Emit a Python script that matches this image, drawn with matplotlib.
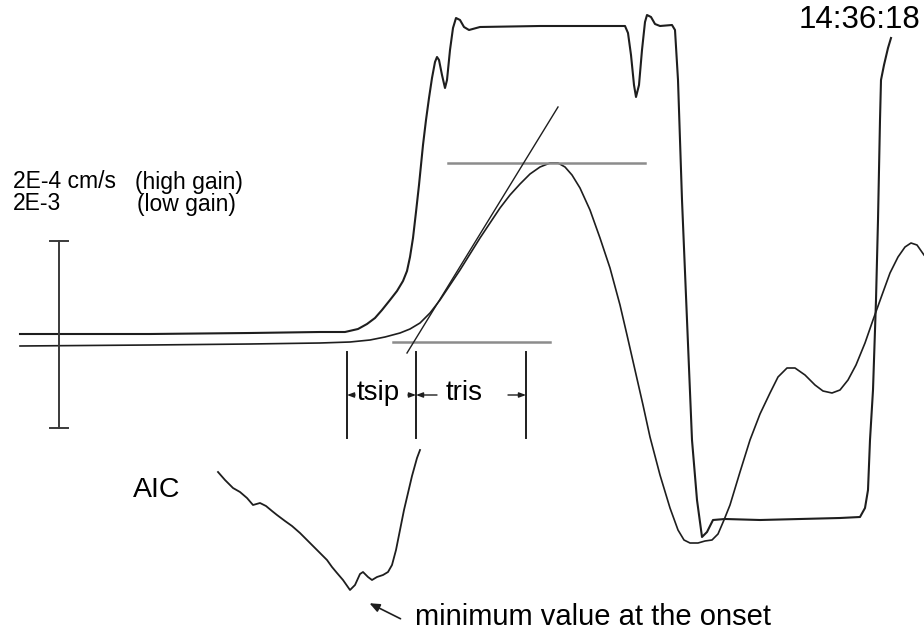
import matplotlib
matplotlib.use('Agg')
import matplotlib.pyplot as plt

plt.rcParams['font.family'] = ['Liberation Sans', 'DejaVu Sans']

# traces, in picture units (x = time, y = amplitude, down is positive)
hg_t = [20, 150, 250, 320, 345, 358, 367, 375, 382, 390, 397, 403, 407, 410, 413, 416, 419, 423, 426, 429,
        432, 435, 437, 439, 442, 445, 447, 450, 453, 456, 460, 464, 469, 480, 540, 600, 625, 628, 631, 634,
        636, 639, 642, 645, 647, 651, 655, 660, 672, 675, 678, 682, 687, 692, 697, 702, 707, 713, 725, 760,
        800, 840, 860, 865, 868, 870, 873, 876, 878, 880, 881, 884, 888, 891]
hg_v = [334, 334, 333, 332, 332, 329, 324, 318, 310, 300, 291, 281, 271, 257, 238, 212, 185, 145, 120, 98,
        78, 62, 57, 60, 75, 88, 80, 50, 28, 18, 20, 27, 30, 27, 26, 26, 26, 33, 55, 85,
        97, 85, 50, 22, 15, 17, 24, 26, 25, 30, 80, 200, 320, 440, 500, 537, 532, 520, 519, 520,
        519, 518, 517, 508, 490, 440, 390, 300, 220, 120, 80, 65, 48, 38]

lg_t = [20, 150, 250, 320, 350, 370, 385, 400, 410, 420, 430, 440, 450, 460, 470, 480, 490, 500, 510, 520,
        530, 540, 550, 558, 565, 572, 580, 590, 600, 610, 620, 627, 635, 643, 650, 660, 670, 678, 684, 690,
        698, 705, 712, 718, 724, 730, 740, 750, 760, 770, 778, 787, 795, 805, 815, 823, 832, 840, 848, 856,
        865, 873, 882, 890, 898, 905, 911, 917, 924]
lg_v = [346, 345, 344, 343, 342, 340, 337, 333, 329, 323, 313, 300, 285, 270, 254, 238, 223, 208, 195, 184,
        174, 167, 163, 163, 167, 175, 188, 210, 238, 268, 305, 335, 370, 405, 437, 475, 508, 530, 540, 543,
        543, 541, 540, 534, 520, 505, 472, 440, 414, 393, 377, 368, 368, 375, 385, 391, 393, 390, 380, 365,
        343, 320, 295, 273, 257, 247, 243, 245, 255]

aic_t = [218, 225, 233, 240, 247, 253, 260, 266, 272, 277, 285, 292, 300, 307, 315, 320, 327, 332, 337, 343,
         350, 355, 360, 363, 368, 372, 377, 383, 388, 392, 396, 400, 404, 408, 412, 417, 420]
aic_v = [472, 480, 488, 492, 498, 505, 503, 506, 511, 515, 521, 526, 533, 540, 548, 553, 560, 567, 573, 580,
         590, 585, 574, 572, 577, 580, 577, 575, 572, 565, 550, 530, 510, 493, 476, 458, 450]

# construction lines
peak_level = [448, 645, 163]      # x0, x1, y
base_level = [393, 550, 342]
tangent = [[407, 558], [353, 107]]
scale_bar = [59, 241, 428]        # x, top, bottom
marks_t = [347, 416, 526]         # tsip / tris limits
marks_v = [352, 438]

fig = plt.figure(figsize=(9.24, 6.37), dpi=100)
ax = fig.add_axes([0, 0, 1, 1])
ax.set_xlim(0, 924)
ax.set_ylim(637, 0)
ax.axis('off')

ink = '#1e1e1e'
ax.plot(hg_t, hg_v, color=ink, lw=1.5, solid_joinstyle='round')
ax.plot(lg_t, lg_v, color=ink, lw=1.2, solid_joinstyle='round')
ax.plot(aic_t, aic_v, color=ink, lw=1.3, solid_joinstyle='round')

ax.plot(peak_level[:2], [peak_level[2]] * 2, color='#8c8c8c', lw=1.8)
ax.plot(base_level[:2], [base_level[2]] * 2, color='#8c8c8c', lw=1.8)
ax.plot(tangent[0], tangent[1], color=ink, lw=1.0)

# amplitude scale
ax.plot([scale_bar[0]] * 2, scale_bar[1:], color='#3a3a3a', lw=1.4)
for yy in scale_bar[1:]:
    ax.plot([scale_bar[0] - 9, scale_bar[0] + 9], [yy, yy], color='#3a3a3a', lw=1.4)

for xx in marks_t:
    ax.plot([xx, xx], marks_v, color=ink, lw=1.4)

arr = dict(arrowstyle='-|>,head_length=0.4,head_width=0.15', color=ink, lw=1.0, shrinkA=0, shrinkB=0)
ax.annotate('', xy=(marks_t[0], 395), xytext=(355, 395), arrowprops=arr)
ax.annotate('', xy=(marks_t[1], 395), xytext=(408, 395), arrowprops=arr)
ax.annotate('', xy=(marks_t[1], 395), xytext=(437, 395), arrowprops=arr)
ax.annotate('', xy=(marks_t[2], 395), xytext=(508, 395), arrowprops=arr)

ax.text(357, 393, 'tsip', fontsize=20, va='center', ha='left')
ax.text(446, 393, 'tris', fontsize=20, va='center', ha='left')

ax.text(13, 182, '2E-4 cm/s', fontsize=16.5, va='center', ha='left')
ax.text(135, 182, '(high gain)', fontsize=16.5, va='center', ha='left')
ax.text(13, 204, '2E-3', fontsize=16.5, va='center', ha='left')
ax.text(137, 204, '(low gain)', fontsize=16.5, va='center', ha='left')

ax.text(799, 20, '14:36:18', fontsize=22.5, va='center', ha='left')
ax.text(133, 490, 'AIC', fontsize=20.5, va='center', ha='left')
ax.text(415, 617, 'minimum value at the onset', fontsize=21, va='center', ha='left')
ax.annotate('', xy=(367, 602), xytext=(403, 620),
            arrowprops=dict(arrowstyle='-|>,head_length=0.6,head_width=0.25', color=ink, lw=1.2))

fig.savefig('out.png', dpi=100)
